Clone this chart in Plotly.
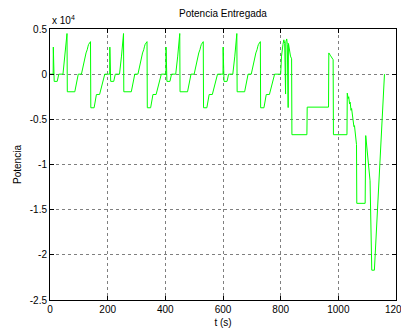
import plotly.graph_objects as go

# time (s) and delivered power (in units of 10^4 W)
t_s = [
    0, 11, 11.5, 14.5, 25, 30.5, 45, 52, 59, 60, 86, 98, 109, 125, 127, 129, 132, 134, 140.5, 141.5, 153, 161, 172, 190,
    207, 207.5, 210.5, 221, 226.5, 241, 248, 255, 256, 282, 294, 305, 321, 323, 325, 328, 330, 336.5, 337.5, 349, 357, 368, 386,
    402, 402.5, 405.5, 416, 421.5, 436, 443, 450, 451, 477, 489, 500, 516, 518, 520, 523, 525, 531.5, 532.5, 544, 552, 563, 581,
    600, 600.5, 603.5, 614, 619.5, 634, 641, 648, 649, 675, 687, 698, 714, 716, 718, 721, 723, 729.5, 730.5, 742, 750, 761, 779,
    800, 803, 808, 811, 814, 815, 817, 818, 821, 823, 824, 826, 827, 830, 834, 838, 839, 891, 892, 966, 967, 972, 978, 982, 983,
    1030, 1031, 1034, 1036, 1039, 1041, 1044, 1046, 1049, 1051, 1054, 1056, 1059, 1061, 1063, 1064, 1093, 1095, 1102, 1110,
    1116, 1125, 1160,
]
potencia_x1e4 = [
    0, 0, 0.30, -0.08, -0.08, 0, 0, 0.20, 0.45, -0.195, -0.195, 0, 0, 0.235, 0.25, 0.27, 0.31, 0.33, 0.36, -0.372, -0.372, -0.225, -0.225, 0,
    0, 0.30, -0.08, -0.08, 0, 0, 0.20, 0.45, -0.195, -0.195, 0, 0, 0.235, 0.25, 0.27, 0.31, 0.33, 0.36, -0.372, -0.372, -0.225, -0.225, 0,
    0, 0.30, -0.08, -0.08, 0, 0, 0.20, 0.45, -0.195, -0.195, 0, 0, 0.235, 0.25, 0.27, 0.31, 0.33, 0.36, -0.372, -0.372, -0.225, -0.225, 0,
    0, 0.30, -0.08, -0.08, 0, 0, 0.20, 0.45, -0.195, -0.195, 0, 0, 0.235, 0.25, 0.27, 0.31, 0.33, 0.36, -0.372, -0.372, -0.225, -0.225, 0,
    0, 0.20, 0.33, 0.38, 0.34, -0.22, -0.22, 0.36, 0.39, 0.33, -0.37, -0.37, 0.34, 0.25, 0.20, 0.17, -0.67, -0.67, -0.365, -0.365, 0.235, 0.21, 0.18, 0.16, -0.67,
    -0.67, -0.21, -0.27, -0.25, -0.33, -0.31, -0.40, -0.38, -0.48, -0.47, -0.58, -0.57, -0.70, -0.72, -0.78, -1.43, -1.43, -0.68, -0.90, -1.18,
    -2.17, -2.17, 0,
]

x_ticks = [0, 200, 400, 600, 800, 1000, 1200]
x_ticktext = ["0", "200", "400", "600", "800", "1000", "1200"]
y_ticks = [0.5, 0, -0.5, -1, -1.5, -2, -2.5]
y_ticktext = ["0.5", "0", "-0.5", "-1", "-1.5", "-2", "-2.5"]

FONT = "Liberation Sans, Arial, sans-serif"

fig = go.Figure()
fig.add_trace(go.Scatter(x=t_s, y=potencia_x1e4, mode="lines",
                         line=dict(color="#00ff00", width=1), showlegend=False))

axis_common = dict(showline=True, linecolor="black", linewidth=1, mirror="ticks",
                   ticks="inside", ticklen=4, tickcolor="black", automargin=False,
                   showgrid=True, gridcolor="rgba(0,0,0,0.5)", griddash="dot", gridwidth=1,
                   zeroline=False, tickfont=dict(family=FONT, size=10, color="black"))

fig.update_xaxes(range=[0, 1200], tickvals=x_ticks, ticktext=x_ticktext,
                 ticklabeloverflow="allow",
                 title=dict(text="t (s)", font=dict(family=FONT, size=10, color="black"), standoff=4),
                 **axis_common)
fig.update_yaxes(range=[-2.5, 0.5], tickvals=y_ticks, ticktext=y_ticktext,
                 title=dict(text="Potencia", font=dict(family=FONT, size=10, color="black"), standoff=6),
                 **axis_common)

fig.update_layout(
    width=401, height=328,
    margin=dict(l=50, r=5, t=29, b=28),
    paper_bgcolor="white", plot_bgcolor="white",
    title=dict(text="Potencia Entregada", x=0.556, xanchor="center", y=0.96, yanchor="middle",
               font=dict(family=FONT, size=10, color="black")),
    annotations=[dict(text="x 10<sup>4</sup>", xref="paper", yref="paper", x=0, y=1.0,
                      xanchor="left", yanchor="bottom", showarrow=False, yshift=1,
                      font=dict(family=FONT, size=10, color="black"))],
)

fig.write_html("out.html")
